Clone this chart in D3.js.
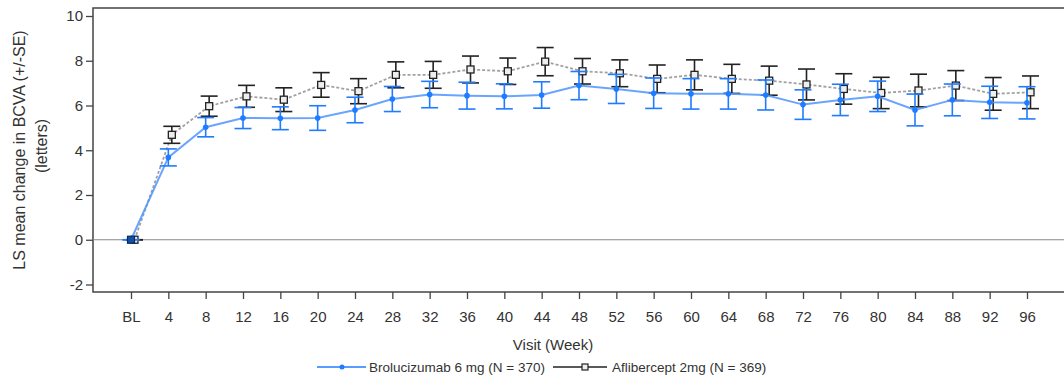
<!DOCTYPE html>
<html>
<head>
<meta charset="utf-8">
<script src="https://cdn.jsdelivr.net/npm/d3@7/dist/d3.min.js"></script>
<style>
  html, body { margin: 0; padding: 0; background: #fff; }
  svg { display: block; }
  text { font-family: "Liberation Sans", Arial, sans-serif; fill: #333; }
</style>
</head>
<body>
<svg id="chart" width="1064" height="392"></svg>
<script>
const categories = ["BL","4","8","12","16","20","24","28","32","36","40","44","48","52","56","60","64","68","72","76","80","84","88","92","96"];
const broluMean = [0,3.68,5.03,5.44,5.43,5.44,5.80,6.29,6.49,6.44,6.41,6.47,6.89,6.74,6.55,6.52,6.52,6.47,6.04,6.25,6.41,5.80,6.25,6.14,6.12];
const broluSE   = [0,0.38,0.43,0.47,0.51,0.55,0.57,0.56,0.59,0.60,0.56,0.59,0.63,0.65,0.68,0.68,0.68,0.67,0.66,0.70,0.68,0.71,0.71,0.72,0.72];
const afliMean  = [0,4.69,5.97,6.41,6.26,6.92,6.64,7.37,7.37,7.61,7.53,7.96,7.53,7.44,7.19,7.37,7.19,7.11,6.94,6.74,6.56,6.67,6.89,6.52,6.59];
const afliSE    = [0,0.38,0.45,0.49,0.53,0.55,0.56,0.58,0.60,0.60,0.59,0.63,0.57,0.60,0.62,0.67,0.65,0.65,0.69,0.68,0.70,0.73,0.67,0.73,0.73];
const yTicks = [-2,0,2,4,6,8,10];
const seriesNames = ["Brolucizumab 6 mg (N = 370)", "Aflibercept 2mg (N = 369)"];
const xTitle = "Visit (Week)";
const yTitle1 = "LS mean change in BCVA (+/-SE)";
const yTitle2 = "(letters)";

const svg = d3.select("#chart");
const frame = {left: 93, top: 8, right: 1070, bottom: 292};
const x = d3.scalePoint().domain(categories).range([131, 1027]);
const y = d3.scaleLinear().domain([-2, 10]).range([284.5, 16]);
const afliOffset = 3.5;

const blue = "#1f7bff";
const blueLine = "#4f95ff";
const dark = "#222";

// frame
svg.append("rect")
  .attr("x", frame.left).attr("y", frame.top)
  .attr("width", frame.right - frame.left).attr("height", frame.bottom - frame.top)
  .attr("fill", "none").attr("stroke", "#444").attr("stroke-width", 1.5);

// zero reference line
svg.append("line")
  .attr("x1", frame.left).attr("x2", frame.right)
  .attr("y1", y(0)).attr("y2", y(0))
  .attr("stroke", "#888").attr("stroke-width", 1.2);

// y axis
const yAxis = d3.axisLeft(y).tickValues(yTicks).tickSize(7).tickPadding(3).tickFormat(d => String(d));
const gy = svg.append("g").attr("transform", `translate(${frame.left},0)`).call(yAxis);
gy.select(".domain").remove();
gy.selectAll(".tick line").attr("stroke", "#444").attr("stroke-width", 1.3);
gy.selectAll(".tick text").style("font-size", "15px").attr("fill", "#333")
  .style("font-family", "'Liberation Sans', Arial, sans-serif");

// x axis
const xAxis = d3.axisBottom(x).tickSize(7).tickPadding(12);
const gx = svg.append("g").attr("transform", `translate(0,${frame.bottom})`).call(xAxis);
gx.select(".domain").remove();
gx.selectAll(".tick line").attr("stroke", "#444").attr("stroke-width", 1.3);
gx.selectAll(".tick text").style("font-size", "15px").attr("fill", "#333")
  .style("font-family", "'Liberation Sans', Arial, sans-serif");

// titles
svg.append("text").attr("x", 553).attr("y", 350).attr("text-anchor", "middle")
  .style("font-size", "15px").text(xTitle);
svg.append("text").attr("transform", "translate(25,150) rotate(-90)").attr("text-anchor", "middle")
  .style("font-size", "16px").text(yTitle1);
svg.append("text").attr("transform", "translate(47,146) rotate(-90)").attr("text-anchor", "middle")
  .style("font-size", "16px").text(yTitle2);

const capW = 8.5;
function drawSeries(mean, se, off, lineColor, barColor, dash, isSquare) {
  const pts = categories.map((c, i) => ({c, m: mean[i], s: se[i]}));
  const line = d3.line().x(d => x(d.c) + off).y(d => y(d.m));
  svg.append("path").datum(pts).attr("d", line)
    .attr("fill", "none").attr("stroke", lineColor).attr("stroke-width", isSquare ? 1.8 : 2)
    .attr("stroke-dasharray", dash).attr("opacity", isSquare ? 0.8 : 0.85);
  const g = svg.append("g");
  pts.forEach(d => {
    const cx = x(d.c) + off;
    const lo = y(d.m - d.s), hi = y(d.m + d.s);
    g.append("line").attr("x1", cx).attr("x2", cx).attr("y1", lo).attr("y2", hi)
      .attr("stroke", barColor).attr("stroke-width", 1.6);
    g.append("line").attr("x1", cx - capW).attr("x2", cx + capW).attr("y1", lo).attr("y2", lo)
      .attr("stroke", barColor).attr("stroke-width", 1.6);
    g.append("line").attr("x1", cx - capW).attr("x2", cx + capW).attr("y1", hi).attr("y2", hi)
      .attr("stroke", barColor).attr("stroke-width", 1.6);
  });
  pts.forEach(d => {
    const cx = x(d.c) + off, cy = y(d.m);
    if (isSquare) {
      g.append("rect").attr("x", cx - 3.5).attr("y", cy - 3.5).attr("width", 7).attr("height", 7)
        .attr("fill", "#eee").attr("stroke", dark).attr("stroke-width", 1.3);
    } else {
      g.append("circle").attr("cx", cx).attr("cy", cy).attr("r", 2.8).attr("fill", blue);
    }
  });
}

drawSeries(afliMean, afliSE, afliOffset, "#8a8a8a", dark, "3,2", true);
drawSeries(broluMean, broluSE, 0, blueLine, blue, null, false);

// baseline marker (both series overlap at BL)
svg.append("rect").attr("x", x("BL") - 3.5).attr("y", y(0) - 3.5).attr("width", 7).attr("height", 7)
  .attr("fill", "#1550a0").attr("stroke", "#102a60").attr("stroke-width", 1.2);

// legend
const ly = 367;
const leg = svg.append("g");
leg.append("line").attr("x1", 317).attr("x2", 366).attr("y1", ly).attr("y2", ly)
  .attr("stroke", blue).attr("stroke-width", 1.5);
leg.append("circle").attr("cx", 342).attr("cy", ly).attr("r", 2.5).attr("fill", blue);
leg.append("text").attr("x", 369).attr("y", ly + 5).style("font-size", "13.5px").text(seriesNames[0]);
leg.append("line").attr("x1", 553).attr("x2", 607).attr("y1", ly).attr("y2", ly)
  .attr("stroke", dark).attr("stroke-width", 1.5);
leg.append("rect").attr("x", 582).attr("y", ly - 3).attr("width", 6).attr("height", 6)
  .attr("fill", "#eee").attr("stroke", dark).attr("stroke-width", 1.2);
leg.append("text").attr("x", 612).attr("y", ly + 5).style("font-size", "13.5px").text(seriesNames[1]);
</script>
</body>
</html>
